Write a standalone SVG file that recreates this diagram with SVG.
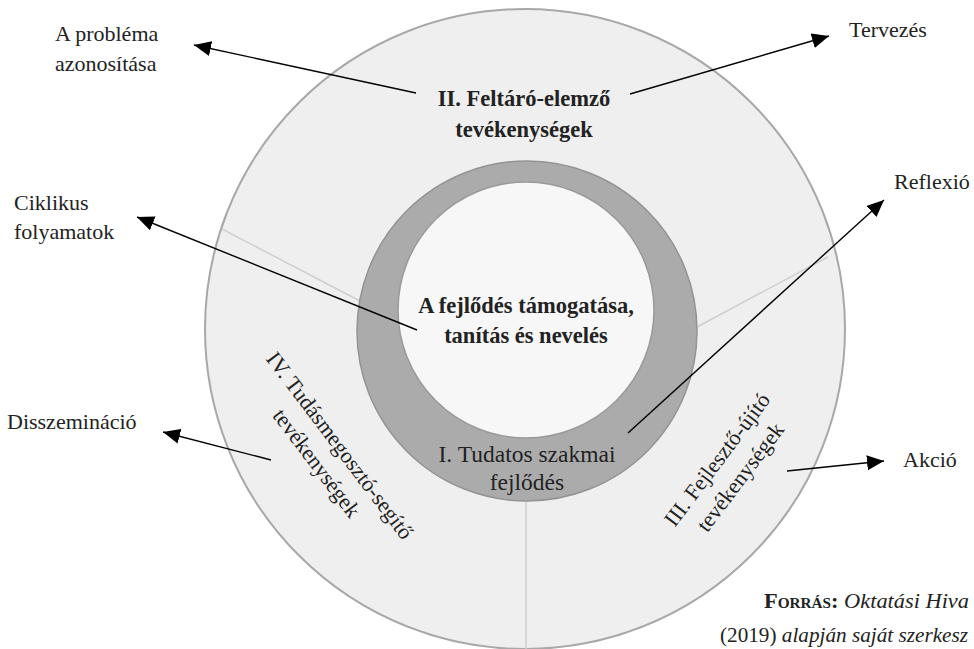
<svg xmlns="http://www.w3.org/2000/svg" width="974" height="649" viewBox="0 0 974 649">
<defs>
<style>
text{font-family:"Liberation Serif","DejaVu Serif",serif;fill:#222;font-size:22px}
.b{font-weight:bold;font-size:22.5px}
.c{text-anchor:middle}
.m{font-size:23.5px}
.conn line{stroke:#000;stroke-width:1.4;marker-end:url(#ah)}
.div{stroke:#cfcfcf;stroke-width:1.5;fill:none}
</style>
<marker id="ah" markerUnits="userSpaceOnUse" markerWidth="18" markerHeight="16" refX="17" refY="7.5" orient="auto">
<path d="M0,0 L17,7.5 L0,15 z" fill="#000"/>
</marker>
</defs>
<rect width="974" height="649" fill="#fff"/>
<g id="outer">
<circle cx="525" cy="329" r="320" fill="#efefef" stroke="#a8a8a8" stroke-width="2"/>
<line class="div" x1="222" y1="229" x2="360" y2="301"/>
<line class="div" x1="828" y1="257" x2="697" y2="327"/>
<line class="div" x1="526" y1="502" x2="526" y2="649"/>
</g>
<g id="ring">
<circle cx="527" cy="331" r="170" fill="#ababab" stroke="#939393" stroke-width="1.5"/>
</g>
<g id="center">
<circle cx="526" cy="310" r="128" fill="#f7f7f7" stroke="#9a9a9a" stroke-width="1.5"/>
<text class="b c" x="526" y="313">A fejlődés támogatása,</text>
<text class="b c" x="526" y="343">tanítás és nevelés</text>
</g>
<g id="seg1">
<text class="c m" x="527" y="462">I. Tudatos szakmai</text>
<text class="c m" x="527" y="490">fejlődés</text>
</g>
<g id="seg2">
<text class="b c" x="524" y="106">II. Feltáró-elemző</text>
<text class="b c" x="524" y="137">tevékenységek</text>
</g>
<g id="seg3" transform="translate(723,464) rotate(-53)">
<text class="c" x="0" y="0">III. Fejlesztő-újító</text>
<text class="c" x="0" y="29">tevékenységek</text>
</g>
<g id="seg4" transform="translate(334,450) rotate(53)">
<text class="c" x="0" y="0">IV. Tudásmegosztó-segítő</text>
<text class="c" x="0" y="29">tevékenységek</text>
</g>
<g id="labels">
<text x="55" y="41">A probléma</text>
<text x="55" y="71">azonosítása</text>
<text x="849" y="37">Tervezés</text>
<text x="894" y="189">Reflexió</text>
<text x="14" y="210">Ciklikus</text>
<text x="14" y="239">folyamatok</text>
<text x="7" y="429">Disszemináció</text>
<text x="903" y="467">Akció</text>
</g>
<g id="source">
<text x="764" y="608" font-size="20" textLength="205" lengthAdjust="spacingAndGlyphs"><tspan font-weight="bold" font-variant="small-caps">Forrás:</tspan> <tspan font-style="italic">Oktatási Hiva</tspan></text>
<text x="720" y="642" font-size="20" textLength="248" lengthAdjust="spacingAndGlyphs">(2019) <tspan font-style="italic">alapján saját szerkesz</tspan></text>
</g>
<g class="conn" id="connectors">
<line x1="416" y1="93" x2="194" y2="45"/>
<line x1="630" y1="94" x2="829" y2="36"/>
<line x1="417" y1="330" x2="137" y2="217"/>
<line x1="628" y1="433" x2="884" y2="200"/>
<line x1="271" y1="460" x2="163" y2="432"/>
<line x1="787" y1="471" x2="884" y2="461"/>
</g>
</svg>
